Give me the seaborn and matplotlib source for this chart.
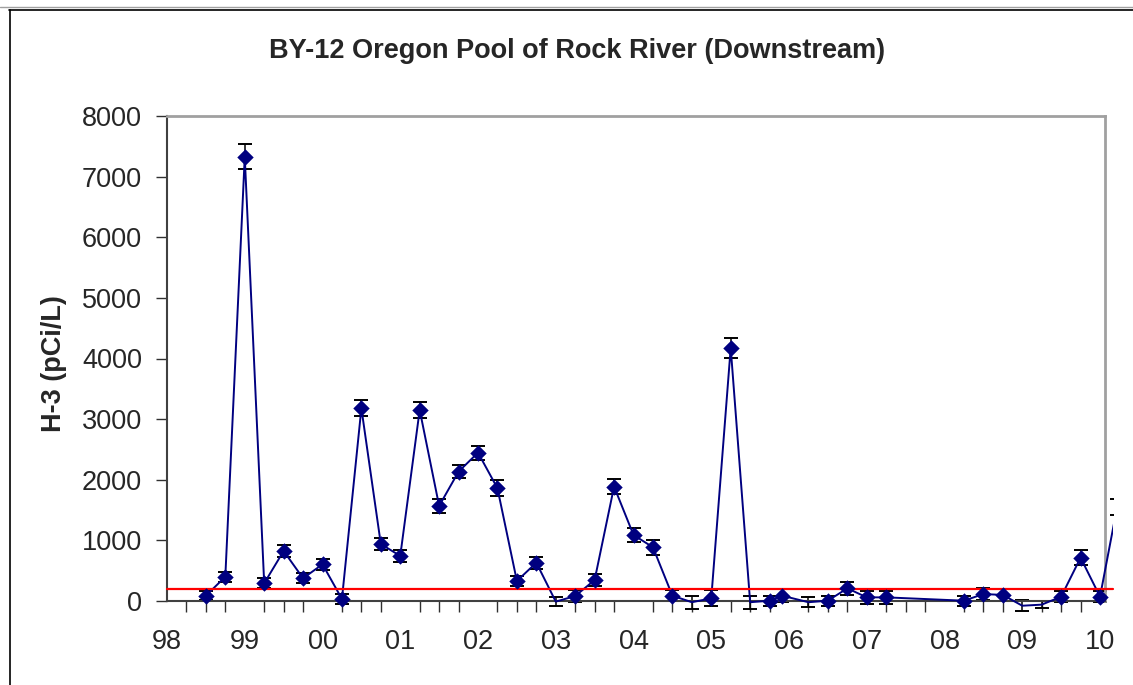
import numpy as np
import pandas as pd
import seaborn as sns
import matplotlib.pyplot as plt
from matplotlib.lines import Line2D
from matplotlib.transforms import Bbox, TransformedBbox
from matplotlib.ticker import MultipleLocator

# sample dates (decimal years) and H-3 results
dates = [1998.5, 1998.75, 1999.0, 1999.25, 1999.5, 1999.75, 2000.0, 2000.25,
         2000.5, 2000.75, 2001.0, 2001.25, 2001.5, 2001.75, 2002.0, 2002.25,
         2002.5, 2002.75, 2003.0, 2003.25, 2003.5, 2003.75, 2004.0, 2004.25,
         2004.5, 2004.75, 2005.0, 2005.25, 2005.5, 2005.75, 2005.91,
         2006.25, 2006.5, 2006.75, 2007.0, 2007.25,
         2008.25, 2008.5, 2008.75, 2009.0, 2009.25, 2009.5, 2009.75, 2010.0, 2010.22]
h3 = [88, 400, 7326, 292, 825, 375, 605, 33,
      3180, 940, 743, 3152, 1568, 2134, 2447, 1860,
      330, 632, -10, 82, 346, 1887, 1089, 886,
      88, -20, 44, 4175, -20, 5, 88,
      -20, 5, 209, 60, 60,
      5, 115, 100, -78, -60, 71, 715, 71, 1550]
h3_err = [70, 83, 206, 83, 96, 83, 88, 78,
          130, 100, 100, 130, 110, 105, 115, 132,
          77, 102, 80, 96, 102, 130, 113, 124,
          90, 110, 130, 165, 110, 83, 105,
          80, 83, 102, 102, 102,
          83, 96, 96, 90, 60, 90, 118, 90, 130]

limit = 200  # red reference level
year_ticks = list(range(1998, 2011))
year_labels = ['98', '99', '00', '01', '02', '03', '04', '05', '06', '07', '08', '09', '10']
y_ticks = list(range(0, 8001, 1000))
title = 'BY-12 Oregon Pool of Rock River (Downstream)'

x_max = 2010.064   # right end of the axis
x_clip = 2010.163  # excel lets the series run a little past the plot area

df = pd.DataFrame({'date': dates, 'h3': h3, 'err': h3_err})
# excel does not draw markers for points outside the axis range
df_pos = df[(df['h3'] >= 0) & (df['date'] <= x_max)]

sns.set_style('white')
plt.rcParams['font.family'] = ['Liberation Sans', 'DejaVu Sans']

W, H = 1133, 685
fig = plt.figure(figsize=(W / 100, H / 100), dpi=100)
ax = fig.add_axes([167 / W, 1 - 601 / H, (1105 - 167) / W, (601 - 116) / H])
ax.set_xlim(1998, x_max)
ax.set_ylim(0, 8000)

clip = TransformedBbox(Bbox([[1997.9, -1500], [x_clip, 8000]]), ax.transData)

# error bars
eb = ax.errorbar(df['date'], df['h3'], yerr=df['err'], fmt='none', ecolor='black',
                 elinewidth=1.1, capsize=4.7, capthick=1.4, zorder=2)
for art in list(eb.lines[1]) + list(eb.lines[2]):
    art.set_clip_box(clip)

# series line
sns.lineplot(data=df, x='date', y='h3', color='#000080', lw=1.4,
             estimator=None, sort=False, ax=ax, zorder=3)
ax.lines[-1].set_clip_box(clip)

# diamond markers
sns.scatterplot(data=df_pos, x='date', y='h3', marker='D', s=70, color='#000080',
                edgecolor='#000080', linewidth=0, ax=ax, zorder=4)
ax.collections[-1].set_clip_box(clip)

# reference line
ax.axhline(limit, xmin=0, xmax=(x_clip - 1998) / (x_max - 1998), color='red',
           lw=1.6, clip_on=False, zorder=3)

# axes styling
ax.set_xticks(year_ticks)
ax.set_xticklabels(year_labels)
ax.xaxis.set_minor_locator(MultipleLocator(0.25))
ax.set_yticks(y_ticks)
ax.tick_params(axis='x', which='major', direction='inout', length=18, width=1.2,
               color='#303030', labelsize=19.5, pad=11)
ax.tick_params(axis='x', which='minor', direction='out', length=8, width=1.0,
               color='#303030', bottom=True)
ax.tick_params(axis='y', which='major', direction='out', length=8, width=1.0,
               color='#303030', labelsize=19.5, pad=10, left=True)
for s in ['left', 'bottom']:
    ax.spines[s].set_color('#404040')
    ax.spines[s].set_linewidth(1.5)
for s in ['top', 'right']:
    ax.spines[s].set_color('#a0a0a0')
    ax.spines[s].set_linewidth(2.0)

ax.set_xlabel('')
ax.set_ylabel('H-3 (pCi/L)', fontsize=19.5, fontweight='bold')
ax.yaxis.set_label_coords((67 - 167) / (1105 - 167), 0.49)

fig.text(577 / W, 1 - 51 / H, title, ha='center', va='center',
         fontsize=19.5, fontweight='bold')

# chart area frame
fig.add_artist(Line2D([0, 1], [1 - 7 / H] * 2, color='#a0a0a0', lw=1.0))
fig.add_artist(Line2D([9 / W, 1], [1 - 9.5 / H] * 2, color='black', lw=1.2))
fig.add_artist(Line2D([9.5 / W] * 2, [0, 1 - 9.5 / H], color='black', lw=1.2))

fig.savefig('out.png', dpi=100)
